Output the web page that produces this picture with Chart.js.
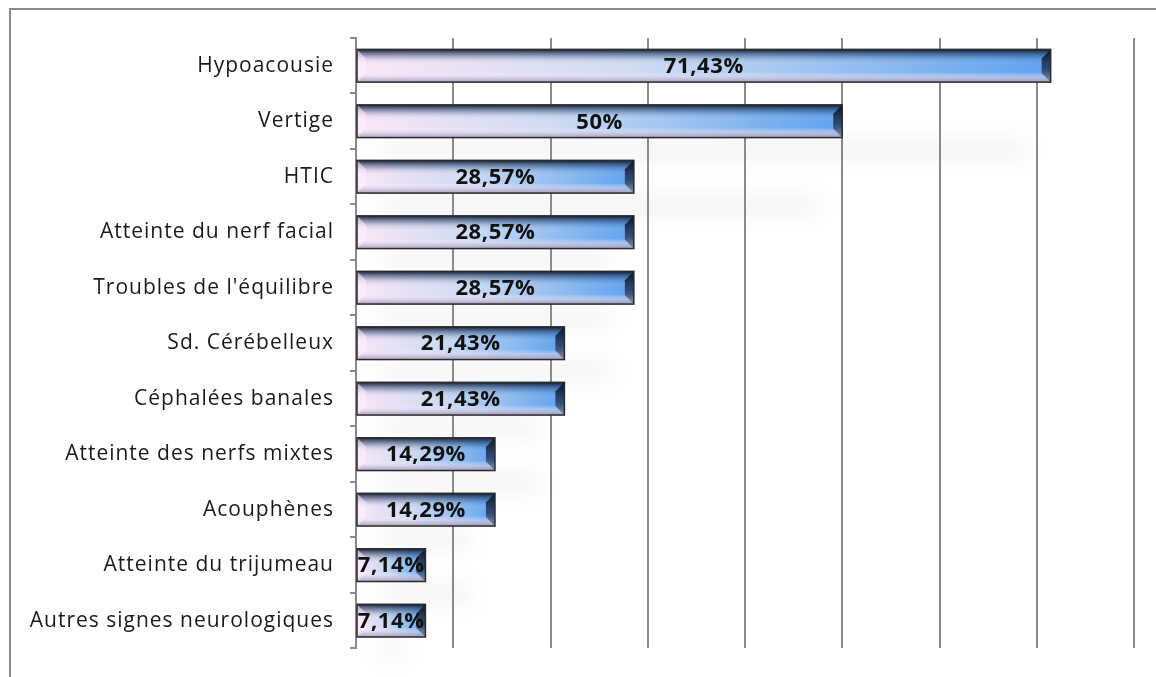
<!DOCTYPE html>
<html>
<head>
<meta charset="utf-8">
<script src="https://cdn.jsdelivr.net/npm/chart.js@4.4.1/dist/chart.umd.min.js"></script>
<style>
  html, body { margin: 0; padding: 0; background: #fff; }
  #wrap { width: 1156px; height: 677px; position: relative; }
</style>
</head>
<body>
<div id="wrap"><canvas id="symptomes"></canvas></div>
<script>
const categories = [
  "Hypoacousie",
  "Vertige",
  "HTIC",
  "Atteinte du nerf facial",
  "Troubles de l'équilibre",
  "Sd. Cérébelleux",
  "Céphalées banales",
  "Atteinte des nerfs mixtes",
  "Acouphènes",
  "Atteinte du trijumeau",
  "Autres signes neurologiques"
];
const percentages = [71.43, 50, 28.57, 28.57, 28.57, 21.43, 21.43, 14.29, 14.29, 7.14, 7.14];
const axisMin = 0;
const axisMax = 80;
const axisStep = 10;

const gridColor = "#8a8a8a";
const labelFont = "'Open Sans', Lato, sans-serif";

function formatPct(v) {
  return String(v).replace(".", ",") + "%";
}

// per-bar gradient: pale pink at the base, sky blue at the tip
function barFill(context) {
  const chart = context.chart;
  const xs = chart.scales.x;
  if (!xs || context.type !== "data") return "#9cc4ee";
  const x0 = xs.getPixelForValue(axisMin);
  const x1 = xs.getPixelForValue(context.raw);
  if (!isFinite(x0) || !isFinite(x1)) return "#9cc4ee";
  const g = chart.ctx.createLinearGradient(x0, 0, x1, 0);
  g.addColorStop(0, "#fae6f6");
  g.addColorStop(0.4, "#cfdcf2");
  g.addColorStop(1, "#5ea2ee");
  return g;
}

function barBox(el) {
  const p = el.getProps(["x", "y", "base", "height"], true);
  return {
    left: Math.min(p.base, p.x),
    right: Math.max(p.base, p.x),
    top: p.y - p.height / 2,
    bottom: p.y + p.height / 2,
    cy: p.y
  };
}

function boxOk(b) {
  return [b.left, b.right, b.top, b.bottom].every(isFinite);
}

// frame (top/left edges) and soft cast shadows behind the bars
const backdropPlugin = {
  id: "backdrop",
  beforeDraw(chart) {
    const ctx = chart.ctx;
    // slightly airy text, applied to tick labels too
    ctx.letterSpacing = "1px";
    ctx.save();
    ctx.strokeStyle = gridColor;
    ctx.lineWidth = 2;
    ctx.beginPath();
    ctx.moveTo(10, 677);
    ctx.lineTo(10, 9);
    ctx.lineTo(1156, 9);
    ctx.stroke();

    const meta = chart.getDatasetMeta(0);
    ctx.filter = "blur(10px)";
    ctx.fillStyle = "rgba(0,0,0,0.045)";
    meta.data.forEach((el) => {
      const b = barBox(el);
      if (!boxOk(b)) return;
      const w = b.right - b.left;
      ctx.fillRect(b.left + 25, b.cy + 74, Math.max(w - 50, 20), 20);
    });
    ctx.restore();
  }
};

// bevel shading on each bar plus the centred value label
const bevelPlugin = {
  id: "bevel",
  afterDatasetsDraw(chart) {
    const ctx = chart.ctx;
    const meta = chart.getDatasetMeta(0);
    const bev = 9;
    ctx.save();
    meta.data.forEach((el, i) => {
      const b = barBox(el);
      if (!boxOk(b)) return;
      const h = b.bottom - b.top;

      const vg = ctx.createLinearGradient(0, b.top, 0, b.bottom);
      vg.addColorStop(0, "rgba(10,20,40,0.95)");
      vg.addColorStop(0.12, "rgba(25,45,80,0.6)");
      vg.addColorStop(0.3, "rgba(50,85,130,0.15)");
      vg.addColorStop(0.48, "rgba(255,255,255,0)");
      vg.addColorStop(0.7, "rgba(255,255,255,0)");
      vg.addColorStop(0.85, "rgba(215,205,228,0.65)");
      vg.addColorStop(1, "rgba(160,150,178,0.9)");
      ctx.fillStyle = vg;
      ctx.fillRect(b.left, b.top, b.right - b.left, h);

      // left bevel, light
      ctx.fillStyle = "rgba(255,238,255,0.55)";
      ctx.beginPath();
      ctx.moveTo(b.left, b.top);
      ctx.lineTo(b.left + bev, b.top + bev);
      ctx.lineTo(b.left + bev, b.bottom - bev);
      ctx.lineTo(b.left, b.bottom);
      ctx.closePath();
      ctx.fill();

      // right bevel, dark
      const rg = ctx.createLinearGradient(0, b.top, 0, b.bottom);
      rg.addColorStop(0, "rgba(10,20,40,0.95)");
      rg.addColorStop(0.6, "rgba(30,45,75,0.75)");
      rg.addColorStop(1, "rgba(90,95,115,0.6)");
      ctx.fillStyle = rg;
      ctx.beginPath();
      ctx.moveTo(b.right, b.top);
      ctx.lineTo(b.right - bev, b.top + bev);
      ctx.lineTo(b.right - bev, b.bottom - bev);
      ctx.lineTo(b.right, b.bottom);
      ctx.closePath();
      ctx.fill();

      ctx.strokeStyle = "#2b2b2b";
      ctx.lineWidth = 1.5;
      ctx.strokeRect(b.left, b.top, b.right - b.left, h);

      ctx.fillStyle = "#111";
      ctx.font = "bold 22px " + labelFont;
      ctx.letterSpacing = "0.6px";
      ctx.textAlign = "center";
      ctx.textBaseline = "middle";
      ctx.fillText(formatPct(percentages[i]), (b.left + b.right) / 2, b.cy + 1);
    });
    ctx.restore();
  }
};

new Chart(document.getElementById("symptomes"), {
  type: "bar",
  data: {
    labels: categories,
    datasets: [{
      data: percentages,
      backgroundColor: barFill,
      borderWidth: 0,
      categoryPercentage: 1,
      barPercentage: 0.59
    }]
  },
  options: {
    indexAxis: "y",
    responsive: true,
    maintainAspectRatio: false,
    animation: false,
    layout: { padding: { left: 0, top: 38, right: 22, bottom: 24 } },
    plugins: {
      legend: { display: false },
      tooltip: { enabled: false }
    },
    scales: {
      x: {
        min: axisMin,
        max: axisMax,
        ticks: { display: false, stepSize: axisStep },
        grid: { color: gridColor, lineWidth: 2, drawTicks: false },
        border: { display: false },
        afterFit(scale) { scale.height = 0; }
      },
      y: {
        ticks: {
          color: "#1a1a1a",
          font: { family: labelFont, size: 21 },
          padding: 16
        },
        grid: {
          offset: true,
          drawOnChartArea: false,
          drawTicks: true,
          tickLength: 6,
          color: gridColor,
          lineWidth: 2
        },
        border: { display: true, color: gridColor, width: 2 },
        afterFit(scale) { scale.width = 356; }
      }
    }
  },
  plugins: [backdropPlugin, bevelPlugin]
});
</script>
</body>
</html>
